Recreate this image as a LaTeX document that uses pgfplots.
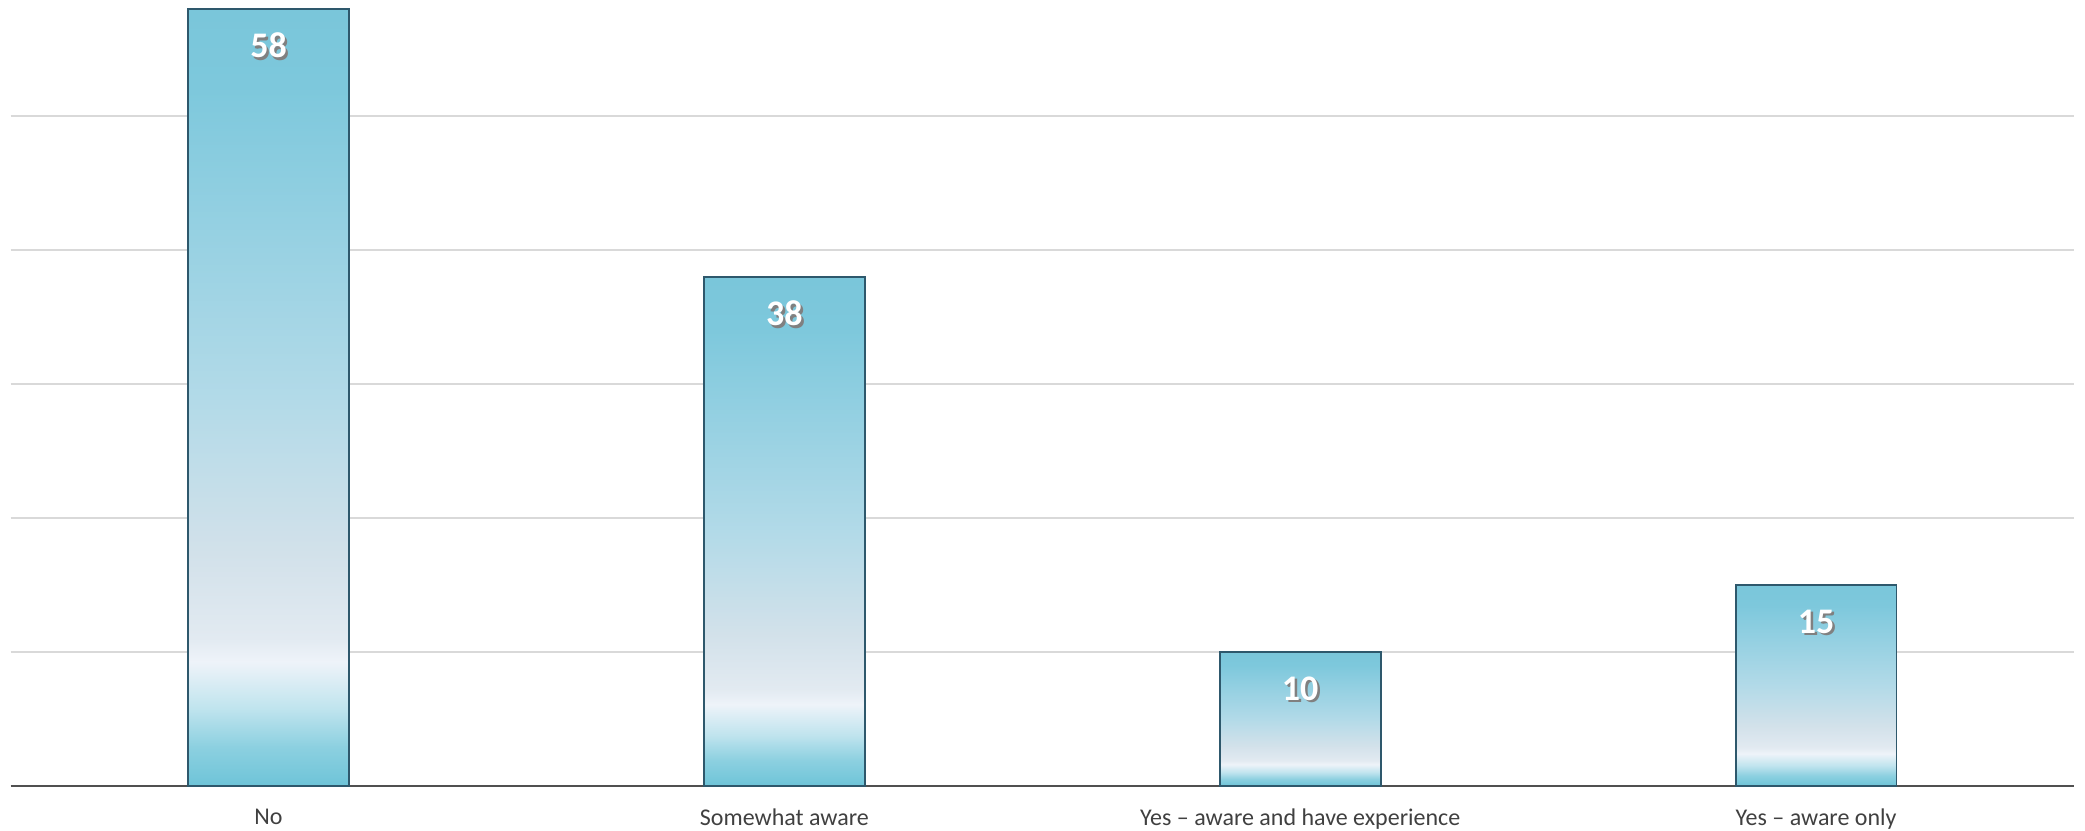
\documentclass[border=0pt]{standalone}
\usepackage{fontspec}
\setmainfont{Carlito}
\usepackage{pgfplots}
\pgfplotsset{compat=1.18}
\usetikzlibrary{calc}
\definecolor{gridgray}{RGB}{217,217,217}
\definecolor{axisgray}{RGB}{80,80,80}
\definecolor{labgray}{RGB}{64,64,64}
\definecolor{baredge}{RGB}{46,88,108}
\definecolor{s0}{RGB}{110,196,216}
\definecolor{s1}{RGB}{140,208,224}
\definecolor{s2}{RGB}{192,228,238}
\definecolor{s3}{RGB}{238,243,249}
\definecolor{s4}{RGB}{226,234,241}
\definecolor{s5}{RGB}{210,225,234}
\definecolor{s6}{RGB}{178,218,232}
\definecolor{s7}{RGB}{145,207,225}
\definecolor{s8}{RGB}{125,200,220}
\definecolor{s9}{RGB}{122,198,218}
\pgfdeclareverticalshading{barshade}{100bp}{
  color(0bp)=(s0);
  color(25bp)=(s0);
  color(27.5bp)=(s1);
  color(30bp)=(s2);
  color(33bp)=(s3);
  color(34.5bp)=(s4);
  color(40bp)=(s5);
  color(50bp)=(s6);
  color(62.5bp)=(s7);
  color(70bp)=(s8);
  color(75bp)=(s9);
  color(100bp)=(s9)}
\pgfplotsset{
  mybar/.style={ybar, bar shift=0pt, bar width=80.5pt, draw=baredge, line width=0.9pt,
    shade, shading=barshade,
    nodes near coords={\rlap{\hspace{1.2pt}\raisebox{-1.2pt}{\textcolor{black!50}{\pgfmathprintnumber{\pgfplotspointmeta}}}}\textcolor{white}{\pgfmathprintnumber{\pgfplotspointmeta}}},
    every node near coord/.append style={anchor=center, yshift=-19pt, font=\bfseries\fontsize{18}{20}\selectfont, inner sep=0pt}}
}
\begin{document}
\begin{tikzpicture}
\begin{axis}[
  name=ax,
  scale only axis,
  width=1032pt, height=392pt,
  xmin=-0.5, xmax=3.5,
  ymin=0, ymax=58.5,
  axis y line*=left,
  y axis line style={draw=none},
  axis x line*=bottom,
  x axis line style={draw=axisgray, line width=1.1pt, -},
  xtick={0,1,2,3},
  xticklabels={No, Somewhat aware, Yes – aware and have experience, Yes – aware only},
  xticklabel style={font=\fontsize{12}{14}\selectfont, text=labgray, yshift=-8pt},
  major tick length=0pt,
  ytick={10,20,30,40,50},
  yticklabels={},
  ymajorgrids,
  grid style={draw=gridgray, line width=0.8pt},
  /pgf/number format/assume math mode=true,
  clip=false,
]
\addplot[mybar] coordinates {(0,58)};
\addplot[mybar] coordinates {(1,38)};
\addplot[mybar] coordinates {(2,10)};
\addplot[mybar] coordinates {(3,15)};
\end{axis}
\pgfresetboundingbox
\path ($(ax.south west)+(-5.3pt,-22.5pt)$) rectangle ($(ax.north east)+(5.5pt,1pt)$);
\end{tikzpicture}
\end{document}
